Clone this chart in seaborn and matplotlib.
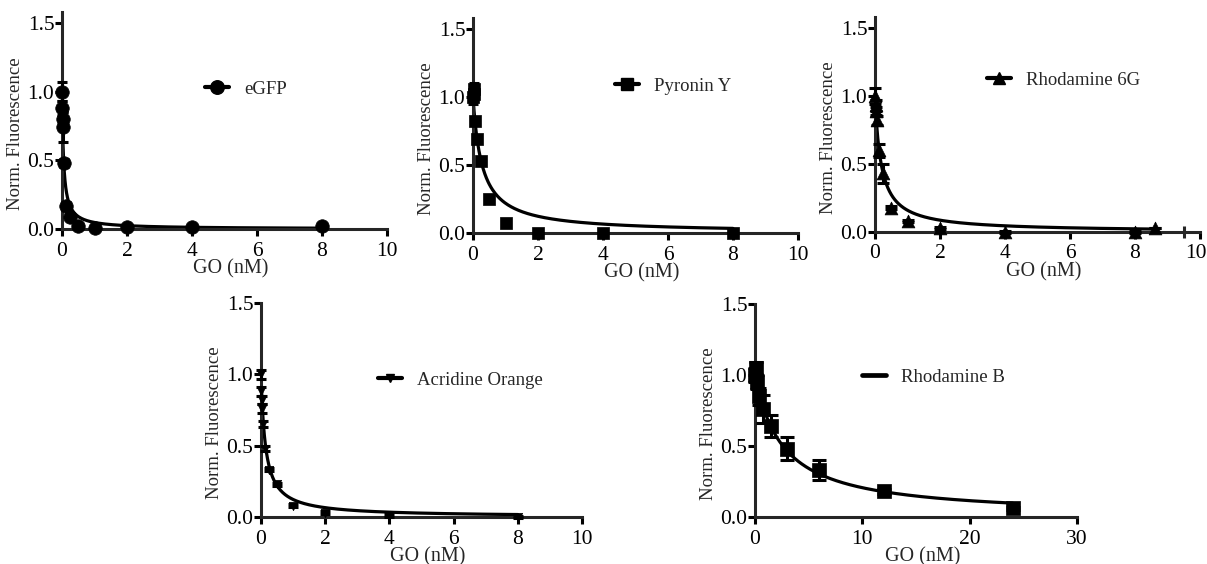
import numpy as np
import matplotlib
matplotlib.use("Agg")
import matplotlib.pyplot as plt
import matplotlib.transforms as mtransforms
from matplotlib.lines import Line2D
import seaborn as sns

# ---- measured data -------------------------------------------------------
dyes = ["eGFP", "Pyronin Y", "Rhodamine 6G", "Acridine Orange", "Rhodamine B"]

egfp_x = [0, 0.0078, 0.0156, 0.03125, 0.0625, 0.125, 0.25, 0.5, 1, 2, 4, 8]
egfp_y = [1.00, 0.88, 0.80, 0.74, 0.48, 0.17, 0.09, 0.02, 0.01, 0.015, 0.015, 0.02]
egfp_err = [0.07, 0.05, 0.05, 0.11, 0.03, 0.03, 0.02, 0.01, 0.01, 0.01, 0.01, 0.01]

pyr_x = [0, 0.0156, 0.03125, 0.0625, 0.125, 0.25, 0.5, 1, 2, 4, 8]
pyr_y = [1.00, 1.06, 1.02, 0.82, 0.69, 0.53, 0.25, 0.07, 0.0, 0.0, 0.0]
pyr_err = [0.05, 0.04, 0.03, 0.02, 0.02, 0.02, 0.01, 0.01, 0.01, 0.01, 0.01]

r6g_x = [0, 0.0156, 0.03125, 0.0625, 0.125, 0.25, 0.5, 1, 2, 4, 8, 8.6]
r6g_y = [1.00, 0.93, 0.89, 0.82, 0.60, 0.43, 0.18, 0.08, 0.03, 0.0, 0.0, 0.03]
r6g_err = [0.06, 0.04, 0.03, 0.03, 0.05, 0.07, 0.01, 0.01, 0.01, 0.01, 0.01, 0.0]

ao_x = [0, 0.0078, 0.0156, 0.03125, 0.0625, 0.125, 0.25, 0.5, 1, 2, 4, 8]
ao_y = [1.00, 0.88, 0.82, 0.76, 0.65, 0.48, 0.33, 0.23, 0.08, 0.03, 0.01, 0.0]
ao_err = [0.03, 0.03, 0.03, 0.03, 0.02, 0.02, 0.01, 0.01, 0.01, 0.01, 0.01, 0.01]

rhb_x = [0, 0.09375, 0.1875, 0.375, 0.75, 1.5, 3, 6, 12, 24]
rhb_y = [1.00, 1.05, 0.95, 0.85, 0.76, 0.64, 0.48, 0.33, 0.18, 0.06]
rhb_err = [0.05, 0.04, 0.05, 0.06, 0.10, 0.08, 0.08, 0.07, 0.02, 0.01]

# one-site quenching fit, F/F0 = 1 / (1 + [GO]/Kd)
fit_kd = [0.05, 0.28, 0.19, 0.14, 2.6]
fit_xmax = [8, 8, 8.6, 8, 24]

x_ticks_small = [0, 2, 4, 6, 8, 10]
x_ticks_large = [0, 10, 20, 30]
y_ticks = [0.0, 0.5, 1.0, 1.5]

# ---- figure layout (pixel boxes of the five axes) --------------------------
W, H = 1207, 564
TICK_FS = 15.5
LABEL_FS = 13.5

sns.set_style("ticks")
plt.rcParams["font.family"] = ["Liberation Serif", "DejaVu Serif"]
plt.rcParams["axes.linewidth"] = 2.2

fig = plt.figure(figsize=(W / 100, H / 100), dpi=100)
fig.patch.set_facecolor("white")


def rect(x0, x1, ytop, ybot):
    return [x0 / W, 1 - ybot / H, (x1 - x0) / W, (ybot - ytop) / H]


panels = [
    dict(box=(62, 387, 12, 229), xlim=10, ytop=1.58, xt=x_ticks_small,
         x=egfp_x, y=egfp_y, e=egfp_err, m="o", s=95, cap=3.5, leg=(205, 89)),
    dict(box=(473, 798, 18, 233), xlim=10, ytop=1.58, xt=x_ticks_small,
         x=pyr_x, y=pyr_y, e=pyr_err, m="s", s=75, cap=3.5, leg=(615, 86)),
    dict(box=(875, 1200, 17, 232), xlim=10, ytop=1.58, xt=x_ticks_small,
         x=r6g_x, y=r6g_y, e=r6g_err, m="^", s=85, cap=4.5, leg=(987, 80)),
    dict(box=(261, 582, 303, 517), xlim=10, ytop=1.5, xt=x_ticks_small,
         x=ao_x, y=ao_y, e=ao_err, m="v", s=36, cap=3.5, leg=(378, 380)),
    dict(box=(755, 1077, 304, 517), xlim=30, ytop=1.5, xt=x_ticks_large,
         x=rhb_x, y=rhb_y, e=rhb_err, m="s", s=100, cap=4.7, leg=(862, 377)),
]

for i, p in enumerate(panels):
    x0, x1, yt, yb = p["box"]
    wpx, hpx = x1 - x0, yb - yt
    ax = fig.add_axes(rect(x0, x1, yt, yb))
    ax.set_facecolor("white")

    # fitted curve
    kd = fit_kd[i]
    xs = np.concatenate([np.linspace(0, 0.5, 300), np.linspace(0.5, fit_xmax[i], 300)[1:]])
    ys = 1.0 / (1.0 + xs / kd)
    sns.lineplot(x=xs, y=ys, ax=ax, color="black", linewidth=2.3,
                 estimator=None, sort=False, zorder=2)

    # error bars and points
    ax.errorbar(p["x"], p["y"], yerr=p["e"], fmt="none", ecolor="black",
                elinewidth=2.2, capsize=p["cap"], capthick=2.2, clip_on=False, zorder=3)
    sns.scatterplot(x=p["x"], y=p["y"], ax=ax, marker=p["m"], s=p["s"],
                    color="black", edgecolor="black", linewidth=0.5,
                    clip_on=False, zorder=4)

    ax.set_xlim(0, p["xlim"])
    ax.set_ylim(0, p["ytop"])
    ax.set_xticks(p["xt"])
    ax.set_yticks(y_ticks)
    ax.set_yticklabels([f"{v:.1f}" for v in y_ticks])
    ax.set_xticklabels([str(v) for v in p["xt"]])
    sns.despine(ax=ax)
    for sp in ("left", "bottom"):
        ax.spines[sp].set_linewidth(2.2)
        ax.spines[sp].set_capstyle("projecting")
    ax.tick_params(axis="both", direction="out", length=5, width=2.2,
                   labelsize=TICK_FS, colors="black")
    ax.tick_params(axis="y", pad=0.5)
    ax.tick_params(axis="x", pad=4)
    if i == 2:
        ax.set_xticks([9.5], minor=True)
        ax.tick_params(axis="x", which="minor", direction="inout", length=9, width=2.2)
        # keep the last tick label inside the figure edge
        last = ax.get_xticklabels()[-1]
        last.set_transform(last.get_transform() +
                           mtransforms.ScaledTranslation(-4 / 100, 0, fig.dpi_scale_trans))

    ax.set_xlabel("GO (nM)", fontsize=LABEL_FS + 1)
    ax.set_ylabel("Norm. Fluorescence", fontsize=LABEL_FS)
    ax.xaxis.set_label_coords(0.52, -30 / hpx)
    ax.yaxis.set_label_coords(-38 / wpx, 0.44)

    # legend entry
    if i < 4:
        handle = Line2D([], [], color="black", linewidth=3.0, marker=p["m"],
                        markersize=np.sqrt(p["s"]))
    else:
        handle = Line2D([], [], color="black", linewidth=3.4)
    lx, ly = p["leg"]
    ax.legend(handles=[handle], labels=[dyes[i]], loc="center left",
              bbox_to_anchor=(lx / W, 1 - ly / H), bbox_transform=fig.transFigure,
              frameon=False, borderpad=0, borderaxespad=0, handlelength=1.3,
              handletextpad=0.8, fontsize=LABEL_FS)

fig.savefig("out.png", dpi=100, facecolor="white")
